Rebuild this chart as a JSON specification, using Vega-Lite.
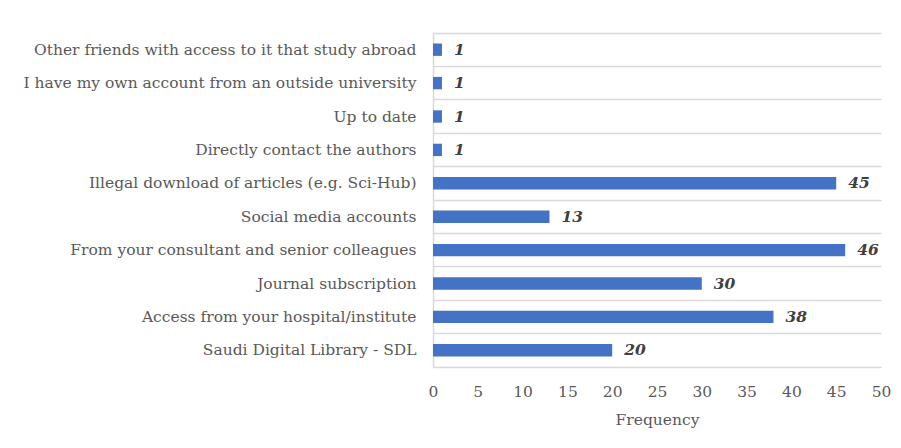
{
  "$schema": "https://vega.github.io/schema/vega-lite/v6.json",
  "width": 448,
  "height": 334,
  "autosize": {"type": "none"},
  "padding": {"left": 433, "top": 33, "right": 20, "bottom": 81},
  "background": "white",
  "config": {
    "view": {"stroke": null},
    "font": "DejaVu Serif"
  },
  "data": {
    "values": [
      {"source": "Other friends with access to it that study abroad", "count": 1},
      {"source": "I have my own account from an outside university", "count": 1},
      {"source": "Up to date ", "count": 1},
      {"source": "Directly contact the authors", "count": 1},
      {"source": "Illegal download of articles (e.g. Sci-Hub)", "count": 45},
      {"source": "Social media accounts", "count": 13},
      {"source": "From your consultant and senior colleagues", "count": 46},
      {"source": "Journal subscription", "count": 30},
      {"source": "Access from your hospital/institute", "count": 38},
      {"source": "Saudi Digital Library - SDL", "count": 20}
    ]
  },
  "encoding": {
    "y": {
      "field": "source",
      "type": "nominal",
      "sort": null,
      "scale": {"paddingInner": 0, "paddingOuter": 0},
      "axis": {
        "title": null,
        "ticks": false,
        "domain": true,
        "domainColor": "#d9d9d9",
        "domainWidth": 1.5,
        "grid": true,
        "bandPosition": 0,
        "gridColor": "#d9d9d9",
        "gridWidth": 1.5,
        "labelFont": "DejaVu Serif",
        "labelFontSize": 15.5,
        "labelColor": "#595959",
        "labelPadding": 17,
        "labelLimit": 500
      }
    },
    "x": {
      "field": "count",
      "type": "quantitative",
      "scale": {"domain": [0, 50], "nice": false},
      "axis": {
        "values": [0, 5, 10, 15, 20, 25, 30, 35, 40, 45, 50],
        "title": "Frequency",
        "titleFont": "DejaVu Serif",
        "titleFontSize": 15.5,
        "titleFontWeight": "normal",
        "titleColor": "#595959",
        "titlePadding": 13,
        "grid": false,
        "ticks": false,
        "domain": true,
        "domainColor": "#d9d9d9",
        "domainWidth": 1.5,
        "labelFont": "DejaVu Serif",
        "labelFontSize": 15.5,
        "labelColor": "#595959",
        "labelPadding": 17,
        "labelFlush": false
      }
    }
  },
  "layer": [
    {
      "mark": {"type": "bar", "color": "#4472C4", "height": {"band": 0.37}}
    },
    {
      "mark": {
        "type": "text",
        "align": "left",
        "baseline": "middle",
        "dx": 12,
        "font": "DejaVu Serif",
        "fontSize": 15.5,
        "fontWeight": "bold",
        "fontStyle": "italic",
        "color": "#404040"
      },
      "encoding": {"text": {"field": "count", "type": "quantitative"}}
    }
  ]
}
